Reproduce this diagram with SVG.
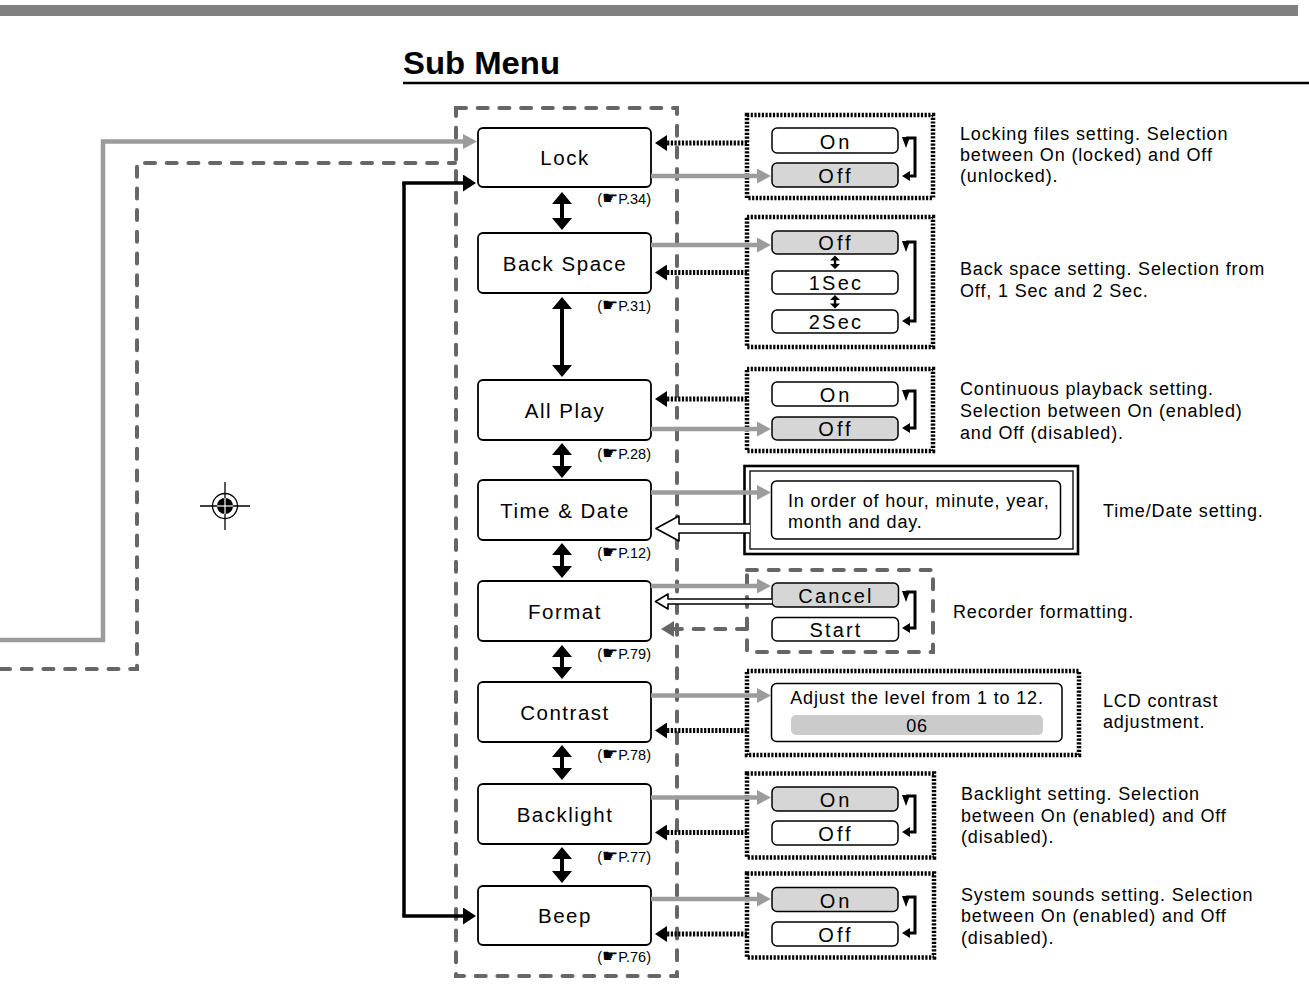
<svg xmlns="http://www.w3.org/2000/svg" width="1309" height="987" viewBox="0 0 1309 987">
<defs>
<style>
text{font-family:"Liberation Sans",Arial,sans-serif;fill:#000}
.box{fill:#fff;stroke:#000;stroke-width:1.8}
.lbl{font-size:20.5px;letter-spacing:1.5px;text-anchor:middle}
.ref{font-size:14.5px;text-anchor:end}
.hand{font-family:"DejaVu Sans",sans-serif;font-size:18px}
.desc{font-size:18px;letter-spacing:0.85px}
.opt{fill:#fff;stroke:#000;stroke-width:1.5}
.sel{fill:#d6d6d6}
.ot{font-size:20px;letter-spacing:3px;text-anchor:middle}
.ot2{font-size:20px;letter-spacing:2.2px;text-anchor:middle}
.dash{fill:none;stroke:#666;stroke-width:4;stroke-dasharray:10 11.7;stroke-linecap:round}
.dot{fill:none;stroke:#000;stroke-width:4.5;stroke-dasharray:2.2 1.5}
.dota{fill:none;stroke:#000;stroke-width:5;stroke-dasharray:2.2 1.5}
.gray{fill:none;stroke:#9c9c9c;stroke-width:4.5}
.blk{fill:none;stroke:#000;stroke-width:3.5}
.br{fill:none;stroke:#000;stroke-width:3}
.hollow{fill:#fff;stroke:#000;stroke-width:1.6;stroke-linejoin:round}
</style>
<marker id="ag" markerUnits="userSpaceOnUse" markerWidth="16" markerHeight="16" refX="6" refY="7.5" orient="auto"><path d="M0,0 L14,7.5 L0,15 Z" fill="#9c9c9c"/></marker>
<marker id="ab" markerUnits="userSpaceOnUse" markerWidth="16" markerHeight="18" refX="6" refY="8.5" orient="auto"><path d="M0,0 L13,8.5 L0,17 Z" fill="#000"/></marker>
<marker id="ad" markerUnits="userSpaceOnUse" markerWidth="14" markerHeight="16" refX="6" refY="8" orient="auto"><path d="M0,0 L12,8 L0,16 Z" fill="#000"/></marker>
<marker id="am" markerUnits="userSpaceOnUse" markerWidth="14" markerHeight="16" refX="6" refY="8" orient="auto"><path d="M0,0 L13,8 L0,16 Z" fill="#666"/></marker>
</defs>

<rect x="0" y="5" width="1298" height="11" fill="#808080"/>
<text x="403" y="74" font-size="32" font-weight="bold" textLength="157" lengthAdjust="spacingAndGlyphs">Sub Menu</text>
<line x1="403" y1="83" x2="1309" y2="83" stroke="#000" stroke-width="2.5"/>

<g id="registration-mark">
<circle cx="225" cy="506" r="12.5" fill="none" stroke="#000" stroke-width="1.3"/>
<circle cx="225" cy="506" r="8" fill="#000"/>
<line x1="200" y1="506" x2="250" y2="506" stroke="#000" stroke-width="1.3"/>
<line x1="225" y1="482" x2="225" y2="530" stroke="#000" stroke-width="1.3"/>
<line x1="217" y1="506" x2="233" y2="506" stroke="#fff" stroke-width="1.2"/>
<line x1="225" y1="498" x2="225" y2="514" stroke="#fff" stroke-width="1.2"/>
</g>

<g id="submenu-frame"><rect class="dash" x="456" y="108" width="221" height="868"/></g>

<g id="panel-lock">
<rect class="dot" x="747" y="115" width="186" height="83"/>
<rect class="opt" x="772" y="128" width="126" height="25" rx="5"/>
<rect class="opt sel" x="772" y="163" width="126" height="24" rx="5"/>
<text class="ot" x="836" y="148.5">On</text>
<text class="ot" x="836" y="183">Off</text>
<path class="br" d="M906,138 H915 V176 H909"/>
<path d="M902,137 L910,137 L906,148 Z"/><path d="M902,176 L910,171 L910,181 Z"/>
<text class="desc" x="960" y="140">Locking files setting. Selection</text>
<text class="desc" x="960" y="161">between On (locked) and Off</text>
<text class="desc" x="960" y="182">(unlocked).</text>
</g>

<g id="panel-backspace">
<rect class="dot" x="747" y="217" width="186" height="130"/>
<rect class="opt sel" x="772" y="231" width="126" height="23" rx="5"/>
<rect class="opt" x="772" y="271" width="126" height="23" rx="5"/>
<rect class="opt" x="772" y="310" width="126" height="23" rx="5"/>
<text class="ot" x="836" y="250">Off</text>
<text class="ot2" x="836" y="290">1Sec</text>
<text class="ot2" x="836" y="329">2Sec</text>
<path d="M835,255.5 L840,260.5 L836.2,260.5 L836.2,264 L840,264 L835,269 L830,264 L833.8,264 L833.8,260.5 L830,260.5 Z"/>
<path d="M835,295 L840,300 L836.2,300 L836.2,303.5 L840,303.5 L835,308.5 L830,303.5 L833.8,303.5 L833.8,300 L830,300 Z"/>
<path class="br" d="M906,242 H915 V321 H909"/>
<path d="M902,241 L910,241 L906,252 Z"/><path d="M902,321 L910,316 L910,326 Z"/>
<text class="desc" x="960" y="275">Back space setting. Selection from</text>
<text class="desc" x="960" y="296.5">Off, 1 Sec and 2 Sec.</text>
</g>

<g id="panel-allplay">
<rect class="dot" x="747" y="369" width="186" height="82"/>
<rect class="opt" x="772" y="382" width="126" height="24" rx="5"/>
<rect class="opt sel" x="772" y="417" width="126" height="23" rx="5"/>
<text class="ot" x="836" y="402">On</text>
<text class="ot" x="836" y="436">Off</text>
<path class="br" d="M906,391 H915 V428 H909"/>
<path d="M902,390 L910,390 L906,401 Z"/><path d="M902,428 L910,423 L910,433 Z"/>
<text class="desc" x="960" y="395">Continuous playback setting.</text>
<text class="desc" x="960" y="417">Selection between On (enabled)</text>
<text class="desc" x="960" y="439">and Off (disabled).</text>
</g>

<g id="panel-timedate">
<rect x="744.5" y="466" width="333.5" height="88" fill="#fff" stroke="#000" stroke-width="2.6"/>
<rect x="750" y="471" width="323" height="78" fill="none" stroke="#000" stroke-width="1.3"/>
<rect class="opt" x="771.5" y="481" width="289" height="58" rx="5"/>
<text class="desc" x="788" y="506.5">In order of hour, minute, year,</text>
<text class="desc" x="788" y="527.5">month and day.</text>
<text class="desc" x="1103" y="517">Time/Date setting.</text>
</g>

<g id="panel-format">
<rect class="dash" x="747" y="570" width="186" height="82"/>
<rect class="opt sel" x="772" y="583" width="126.5" height="24" rx="5"/>
<rect class="opt" x="772" y="617.5" width="126.5" height="23.5" rx="5"/>
<text class="ot2" x="836" y="602.5">Cancel</text>
<text class="ot2" x="836" y="637">Start</text>
<path class="br" d="M906,592 H915 V628 H909"/>
<path d="M902,591 L910,591 L906,602 Z"/><path d="M902,628 L910,623 L910,633 Z"/>
<text class="desc" x="953" y="618">Recorder formatting.</text>
</g>

<g id="panel-contrast">
<rect class="dot" x="747" y="671" width="332" height="84"/>
<rect class="opt" x="771.5" y="683.5" width="290.5" height="58" rx="5"/>
<rect x="791" y="715" width="252" height="20" rx="5" fill="#cbcbcb"/>
<text class="desc" x="917" y="703.5" text-anchor="middle">Adjust the level from 1 to 12.</text>
<text class="desc" x="917" y="732" text-anchor="middle">06</text>
<text class="desc" x="1103" y="706.5">LCD contrast</text>
<text class="desc" x="1103" y="728">adjustment.</text>
</g>

<g id="panel-backlight">
<rect class="dot" x="747" y="773.5" width="187" height="84"/>
<rect class="opt sel" x="772" y="787" width="126" height="24" rx="5"/>
<rect class="opt" x="772" y="821" width="126" height="24" rx="5"/>
<text class="ot" x="836" y="807">On</text>
<text class="ot" x="836" y="841">Off</text>
<path class="br" d="M906,796 H915 V832 H909"/>
<path d="M902,795 L910,795 L906,806 Z"/><path d="M902,832 L910,827 L910,837 Z"/>
<text class="desc" x="961" y="800">Backlight setting. Selection</text>
<text class="desc" x="961" y="821.5">between On (enabled) and Off</text>
<text class="desc" x="961" y="843">(disabled).</text>
</g>

<g id="panel-beep">
<rect class="dot" x="747" y="873.5" width="187" height="84"/>
<rect class="opt sel" x="772" y="887.5" width="126" height="24" rx="5"/>
<rect class="opt" x="772" y="922" width="126" height="24" rx="5"/>
<text class="ot" x="836" y="907.5">On</text>
<text class="ot" x="836" y="942">Off</text>
<path class="br" d="M906,897 H915 V933 H909"/>
<path d="M902,896 L910,896 L906,907 Z"/><path d="M902,933 L910,928 L910,938 Z"/>
<text class="desc" x="961" y="900.5">System sounds setting. Selection</text>
<text class="desc" x="961" y="922">between On (enabled) and Off</text>
<text class="desc" x="961" y="943.5">(disabled).</text>
</g>

<g id="node-lock"><rect class="box" x="478" y="128" width="173" height="59" rx="5"/><text class="lbl" x="565" y="165">Lock</text>
<text class="ref" x="651" y="204">(<tspan class="hand">☛</tspan>P.34)</text></g>
<g id="node-backspace"><rect class="box" x="478" y="233" width="173" height="60" rx="5"/><text class="lbl" x="565" y="270.5">Back Space</text>
<text class="ref" x="651" y="310.5">(<tspan class="hand">☛</tspan>P.31)</text></g>
<g id="node-allplay"><rect class="box" x="478" y="380" width="173" height="60" rx="5"/><text class="lbl" x="565" y="417.5">All Play</text>
<text class="ref" x="651" y="459">(<tspan class="hand">☛</tspan>P.28)</text></g>
<g id="node-timedate"><rect class="box" x="478" y="480" width="173" height="60" rx="5"/><text class="lbl" x="565" y="517.5">Time &amp; Date</text>
<text class="ref" x="651" y="557.5">(<tspan class="hand">☛</tspan>P.12)</text></g>
<g id="node-format"><rect class="box" x="478" y="581" width="173" height="60" rx="5"/><text class="lbl" x="565" y="618.5">Format</text>
<text class="ref" x="651" y="659">(<tspan class="hand">☛</tspan>P.79)</text></g>
<g id="node-contrast"><rect class="box" x="478" y="682" width="173" height="60" rx="5"/><text class="lbl" x="565" y="719.5">Contrast</text>
<text class="ref" x="651" y="760">(<tspan class="hand">☛</tspan>P.78)</text></g>
<g id="node-backlight"><rect class="box" x="478" y="784" width="173" height="60" rx="5"/><text class="lbl" x="565" y="821.5">Backlight</text>
<text class="ref" x="651" y="862">(<tspan class="hand">☛</tspan>P.77)</text></g>
<g id="node-beep"><rect class="box" x="478" y="886" width="173" height="59" rx="5"/><text class="lbl" x="565" y="923">Beep</text>
<text class="ref" x="651" y="962">(<tspan class="hand">☛</tspan>P.76)</text></g>

<g id="connectors">
<polyline class="gray" points="0,640 103,640 103,141.5 469,141.5" marker-end="url(#ag)"/>
<polyline class="dash" points="0,669 137,669 137,163 455,163"/>
<polyline class="blk" points="404,183 404,916"/>
<line class="blk" x1="402.25" y1="183" x2="469" y2="183" marker-end="url(#ab)"/>
<line class="blk" x1="402.25" y1="916" x2="469" y2="916" marker-end="url(#ab)"/>

<g fill="#000">
<path d="M562,192 L572,204 L564,204 L564,218 L572,218 L562,230 L552,218 L560,218 L560,204 L552,204 Z"/>
<path d="M562,297 L572,309 L564,309 L564,365 L572,365 L562,377 L552,365 L560,365 L560,309 L552,309 Z"/>
<path d="M562,443 L572,455 L564,455 L564,466 L572,466 L562,478 L552,466 L560,466 L560,455 L552,455 Z"/>
<path d="M562,543 L572,555 L564,555 L564,566 L572,566 L562,578 L552,566 L560,566 L560,555 L552,555 Z"/>
<path d="M562,645 L572,657 L564,657 L564,667 L572,667 L562,679 L552,667 L560,667 L560,657 L552,657 Z"/>
<path d="M562,745 L572,757 L564,757 L564,768 L572,768 L562,780 L552,768 L560,768 L560,757 L552,757 Z"/>
<path d="M562,847 L572,859 L564,859 L564,871 L572,871 L562,883 L552,871 L560,871 L560,859 L552,859 Z"/>
</g>

<line class="gray" x1="651" y1="176" x2="763" y2="176" marker-end="url(#ag)"/>
<line class="dota" x1="747" y1="143" x2="661" y2="143" marker-end="url(#ad)"/>
<line class="gray" x1="651" y1="245" x2="763" y2="245" marker-end="url(#ag)"/>
<line class="dota" x1="747" y1="272.5" x2="661" y2="272.5" marker-end="url(#ad)"/>
<line class="dota" x1="747" y1="399" x2="661" y2="399" marker-end="url(#ad)"/>
<line class="gray" x1="651" y1="429" x2="763" y2="429" marker-end="url(#ag)"/>
<line class="gray" x1="651" y1="492.5" x2="763" y2="492.5" marker-end="url(#ag)"/>
<path class="hollow" d="M750,524 L679,524 L679,516 L656,528.5 L679,541 L679,533 L750,533"/>
<line class="gray" x1="651" y1="586" x2="763" y2="586" marker-end="url(#ag)"/>
<path class="hollow" d="M772,599 L668,599 L668,594 L655.5,601.5 L668,609 L668,604 L772,604" stroke-width="1.4"/>
<line class="dash" x1="747" y1="629" x2="668" y2="629" marker-end="url(#am)"/>
<line class="gray" x1="651" y1="695.5" x2="763" y2="695.5" marker-end="url(#ag)"/>
<line class="dota" x1="747" y1="730.5" x2="661" y2="730.5" marker-end="url(#ad)"/>
<line class="gray" x1="651" y1="797.5" x2="763" y2="797.5" marker-end="url(#ag)"/>
<line class="dota" x1="747" y1="832.5" x2="661" y2="832.5" marker-end="url(#ad)"/>
<line class="gray" x1="651" y1="899" x2="763" y2="899" marker-end="url(#ag)"/>
<line class="dota" x1="747" y1="934" x2="661" y2="934" marker-end="url(#ad)"/>
</g>
</svg>
